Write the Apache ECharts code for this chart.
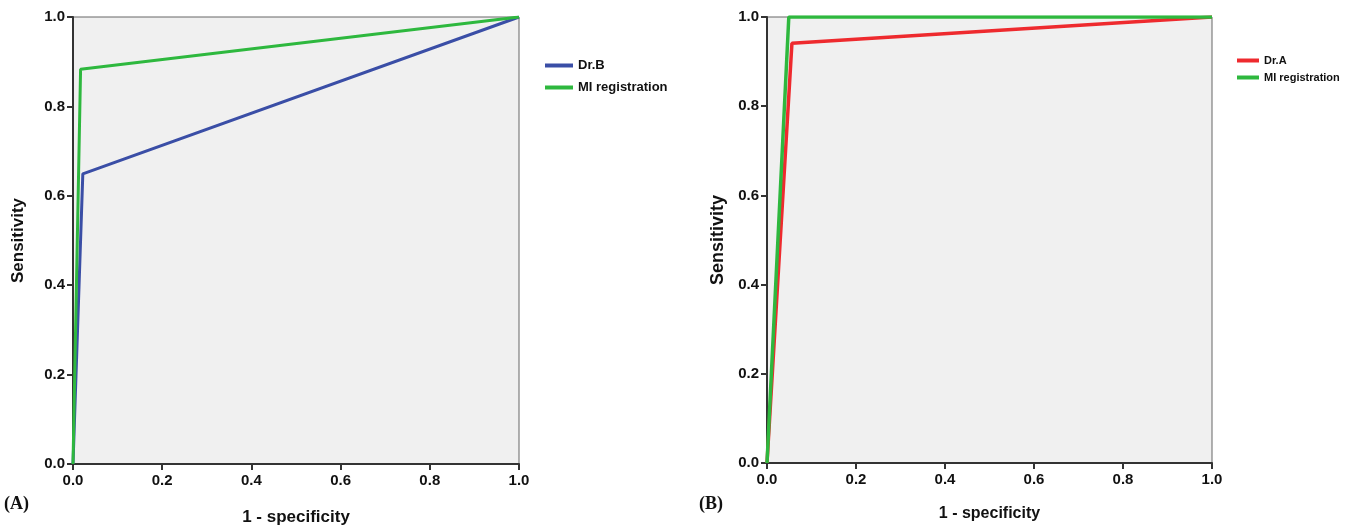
<!DOCTYPE html>
<html><head><meta charset="utf-8">
<script src="https://cdn.jsdelivr.net/npm/echarts@6/dist/echarts.min.js"></script>
<style>html,body{margin:0;padding:0;background:#fff}#c{width:1349px;height:527px}</style>
</head><body><div id="c"></div>
<script>
const xTicks = [0, 0.2, 0.4, 0.6, 0.8, 1.0];
const drB = [[0, 0], [0.022, 0.649], [1, 1]];
const miA = [[0, 0], [0.017, 0.883], [1, 1]];
const drA = [[0, 0], [0.056, 0.941], [1, 1]];
const miB = [[0, 0], [0.049, 1], [1, 1]];
const panelLabels = ['(A)', '(B)'];

const chart = echarts.init(document.getElementById('c'));
const font = 'Liberation Sans, Arial, sans-serif';
function xAx(i, fs, gap) {
  return {type:'value', gridIndex:i, min:0, max:1, interval:0.2,
    name:'1 - specificity', nameLocation:'middle', nameGap:gap,
    nameTextStyle:{fontFamily:font, fontWeight:'bold', fontSize:fs, color:'#111'},
    axisLine:{show:true, onZero:false, lineStyle:{color:'#333', width:2}},
    axisTick:{show:true, length:6, lineStyle:{color:'#333', width:2}},
    axisLabel:{fontFamily:font, fontWeight:'bold', fontSize:15, color:'#111', margin:9, formatter:v=>v.toFixed(1)},
    splitLine:{show:false}};
}
function yAx(i, fs, gap) {
  return {type:'value', gridIndex:i, min:0, max:1, interval:0.2,
    name:'Sensitivity', nameLocation:'middle', nameGap:gap, nameRotate:90,
    nameTextStyle:{fontFamily:font, fontWeight:'bold', fontSize:fs, color:'#111'},
    axisLine:{show:true, onZero:false, lineStyle:{color:'#333', width:2}},
    axisTick:{show:true, length:6, lineStyle:{color:'#333', width:2}},
    axisLabel:{fontFamily:font, fontWeight:'bold', fontSize:15, color:'#111', margin:8, formatter:v=>v.toFixed(1)},
    splitLine:{show:false}};
}
chart.setOption({
  animation:false,
  grid:[
    {left:73, top:17, width:446, height:447, show:true, outerBoundsMode:'none', containLabel:false, backgroundColor:'#f0f0f0', borderColor:'#666', borderWidth:1},
    {left:767, top:17, width:445, height:446, show:true, outerBoundsMode:'none', containLabel:false, backgroundColor:'#f0f0f0', borderColor:'#666', borderWidth:1}
  ],
  xAxis:[xAx(0, 17, 45), xAx(1, 16, 43)],
  yAxis:[yAx(0, 17, 46), yAx(1, 18, 40)],
  legend:[
    {left:540, top:54, orient:'vertical', itemGap:9, itemWidth:28, itemHeight:4, icon:'rect',
     data:['Dr.B','MI registration'], textStyle:{fontFamily:font, fontWeight:'bold', fontSize:13, color:'#111'}},
    {left:1232, top:50, orient:'vertical', itemGap:6, itemWidth:22, itemHeight:4, icon:'rect',
     data:['Dr.A',{name:'MI registration '}], textStyle:{fontFamily:font, fontWeight:'bold', fontSize:11, color:'#111'}, formatter:n=>n.trim()}
  ],
  series:[
    {name:'Dr.B', type:'line', xAxisIndex:0, yAxisIndex:0, data:drB, showSymbol:false, lineStyle:{color:'#3a4ea6', width:3}, itemStyle:{color:'#3a4ea6'}},
    {name:'MI registration', type:'line', xAxisIndex:0, yAxisIndex:0, data:miA, showSymbol:false, lineStyle:{color:'#2eb83e', width:3}, itemStyle:{color:'#2eb83e'}},
    {name:'Dr.A', type:'line', xAxisIndex:1, yAxisIndex:1, data:drA, showSymbol:false, lineStyle:{color:'#ee2a2e', width:3.5}, itemStyle:{color:'#ee2a2e'}},
    {name:'MI registration ', type:'line', xAxisIndex:1, yAxisIndex:1, data:miB, showSymbol:false, lineStyle:{color:'#2eb83e', width:3.5}, itemStyle:{color:'#2eb83e'}}
  ],
  graphic:[
    {type:'text', left:4, top:495, style:{text:panelLabels[0], font:'bold 18px "Liberation Serif", serif', fill:'#111'}},
    {type:'text', left:699, top:495, style:{text:panelLabels[1], font:'bold 18px "Liberation Serif", serif', fill:'#111'}}
  ]
});
</script></body></html>
